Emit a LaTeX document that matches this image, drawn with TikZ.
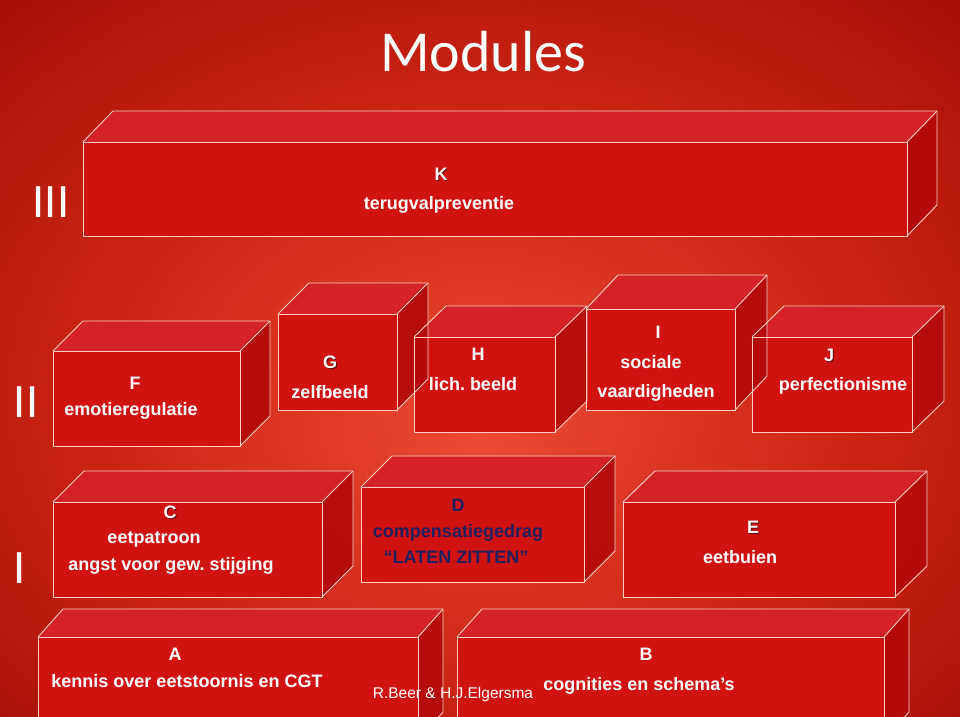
\documentclass[tikz,border=0pt]{standalone}
\usepackage{fontspec}
\setmainfont{Liberation Sans}
\newfontfamily\titlefont{Carlito}
\frenchspacing

\definecolor{bgin}{RGB}{236,74,50}
\definecolor{bgmid}{RGB}{204,36,20}
\definecolor{bgout}{RGB}{166,16,8}
\definecolor{frontc}{RGB}{208,18,16}
\definecolor{topc}{RGB}{212,34,38}
\definecolor{sidec}{RGB}{180,10,10}
\definecolor{edgec}{RGB}{250,206,196}
\definecolor{navyc}{RGB}{30,32,96}

\pgfdeclareradialshading{bgshade}{\pgfpoint{0bp}{-5bp}}{%
  color(0bp)=(bgin); color(20bp)=(bgmid); color(36bp)=(bgout); color(50bp)=(bgout)}

% #1,#2 front top-left; #3,#4 front bottom-right; #5,#6 depth (right, up)
\newcommand\cubefill[6]{%
  \fill[frontc] (#1,#2) rectangle (#3,#4);
  \fill[topc] (#1,#2) -- (#1+#5,#2-#6) -- (#3+#5,#2-#6) -- (#3,#2) -- cycle;
  \fill[sidec,fill opacity=0.92] (#3,#2) -- (#3+#5,#2-#6) -- (#3+#5,#4-#6) -- (#3,#4) -- cycle;
}
\newcommand\cubeline[6]{%
  \draw[edgeline] (#1,#2) rectangle (#3,#4);
  \draw[edgeline] (#1,#2) -- (#1+#5,#2-#6) -- (#3+#5,#2-#6) -- (#3+#5,#4-#6) -- (#3,#4);
  \draw[edgeline] (#3,#2) -- (#3+#5,#2-#6);
}

\tikzset{
  edgeline/.style={draw=edgec, line width=0.9pt, line join=miter},
  lbl/.style={font=\bfseries\fontsize{18}{20}\selectfont, text=white, inner sep=0pt},
  dlbl/.style={font=\bfseries\fontsize{18}{20}\selectfont, text=navyc, inner sep=0pt},
  shd/.style={font=\bfseries\fontsize{18}{20}\selectfont, text=black, text opacity=0.55, inner sep=0pt},
  roman/.style={font=\titlefont\fontsize{48}{50}\selectfont, text=white, inner sep=0pt, anchor=base},
}

\begin{document}
\begin{tikzpicture}[x=1pt,y=-1pt]
\useasboundingbox (0,0) rectangle (960,716);
\clip (0,0) rectangle (960,716);
\shade[shading=bgshade] (0,0) rectangle (960,716);

% fills (right to left so left boxes' sides overlay)
\cubefill{83}{142}{907}{236}{30}{31}   % K
\cubefill{752}{337}{912}{432}{32}{31}  % J
\cubefill{586}{309}{735}{410}{32}{34}  % I
\cubefill{414}{337}{555}{432}{32}{31}  % H
\cubefill{278}{314}{397}{410}{31}{31}  % G
\cubefill{53}{351}{240}{446}{30}{30}   % F
\cubefill{623}{502}{895}{597}{32}{31}  % E
\cubefill{361}{487}{584}{582}{31}{31}  % D
\cubefill{53}{502}{322}{597}{31}{31}   % C
\cubefill{457}{637}{884}{740}{25}{28}  % B
\cubefill{38}{637}{418}{740}{25}{28}   % A

% outlines
\cubeline{83}{142}{907}{236}{30}{31}
\cubeline{752}{337}{912}{432}{32}{31}
\cubeline{586}{309}{735}{410}{32}{34}
\cubeline{414}{337}{555}{432}{32}{31}
\cubeline{278}{314}{397}{410}{31}{31}
\cubeline{53}{351}{240}{446}{30}{30}
\cubeline{623}{502}{895}{597}{32}{31}
\cubeline{361}{487}{584}{582}{31}{31}
\cubeline{53}{502}{322}{597}{31}{31}
\cubeline{457}{637}{884}{740}{25}{28}
\cubeline{38}{637}{418}{740}{25}{28}

% title
\node[font=\titlefont\fontsize{58}{60}\selectfont, text=white, inner sep=0pt, anchor=base] (title) at (483,71) {Modules};

% level numerals
\node[roman] (lv3) at (51,217) {III};
\node[roman] (lv2) at (26,417) {II};
\node[roman] (lv1) at (20,583) {I};

% K
\node[shd] (Ks) at (442.2,175.2) {K};
\node[lbl] (K) at (441,174) {K};
\node[lbl] (Kt) at (439,205) {terugvalpreventie};
% F
\node[lbl] (F) at (135,383) {F};
\node[lbl] (Ft) at (131,411) {emotieregulatie};
% G
\node[shd] (Gs) at (331.2,363.2) {G};
\node[lbl] (G) at (330,362) {G};
\node[lbl] (Gt) at (330,392) {zelfbeeld};
% H
\node[lbl] (H) at (478,354) {H};
\node[lbl] (Ht) at (473,384) {lich. beeld};
% I
\node[lbl] (I) at (658,332) {I};
\node[lbl] (It1) at (651,362) {sociale};
\node[lbl] (It2) at (656,393) {vaardigheden};
% J
\node[shd] (Js) at (830.2,356.2) {J};
\node[lbl] (J) at (829,355) {J};
\node[lbl] (Jt) at (843,386) {perfectionisme};
% C
\node[shd] (Cs) at (171.2,513.2) {C};
\node[lbl] (C) at (170,512) {C};
\node[lbl] (Ct1) at (154,539) {eetpatroon};
\node[lbl] (Ct2) at (171,566) {angst voor gew. stijging};
% D
\node[dlbl] (D) at (458,505) {D};
\node[dlbl] (Dt1) at (458,533) {compensatiegedrag};
\node[dlbl] (Dt2) at (456,557) {“LATEN ZITTEN”};
% E
\node[shd] (Es) at (754.2,528.2) {E};
\node[lbl] (E) at (753,527) {E};
\node[lbl] (Et) at (740,557) {eetbuien};
% A
\node[lbl] (A) at (175,654) {A};
\node[lbl] (At) at (187,681) {kennis over eetstoornis en CGT};
% B
\node[lbl] (B) at (646,654) {B};
\node[lbl] (Bt) at (639,686) {cognities en schema’s};
% credit
\node[font=\fontsize{15.5}{17}\selectfont, text=white, inner sep=0pt] (credit) at (453,694) {R.Beer \& H.J.Elgersma};
\end{tikzpicture}
\end{document}
